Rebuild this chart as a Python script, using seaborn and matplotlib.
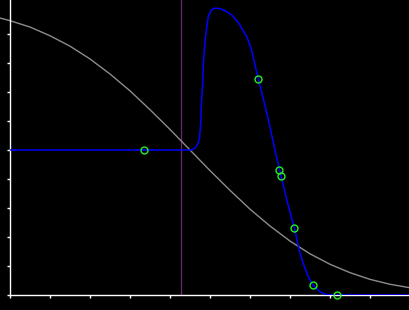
#!/usr/bin/env python

import numpy as np
import pandas as pd
import matplotlib
matplotlib.use("Agg")
import matplotlib.pyplot as plt
import seaborn as sns

# grey curve
grey_x = [-0.25, 0, 0.5, 1, 1.5, 2, 2.5, 3, 3.5, 4, 4.5, 5, 5.5, 6, 6.5,
          7, 7.5, 8, 8.5, 9, 9.5, 10]
grey_y = [9.55, 9.46, 9.24, 8.94, 8.58, 8.14, 7.62, 7.04, 6.39, 5.71, 5.0,
          4.29, 3.61, 2.96, 2.38, 1.86, 1.42, 1.06, 0.77, 0.54, 0.37, 0.25]

# blue curve
blue_x = [0, 4.375, 4.533, 4.625, 4.708, 4.74, 4.768, 4.79, 4.818, 4.83,
          4.858, 4.90, 4.933, 4.958, 5.0, 5.04, 5.10, 5.17, 5.25, 5.33,
          5.43, 5.54, 5.64, 5.75, 5.83, 5.92, 5.98, 6.04, 6.125, 6.21,
          6.42, 6.67, 6.92, 7.11, 7.23, 7.33, 7.45, 7.58, 7.75, 7.875,
          8.0, 10]
blue_y = [5.0, 5.0, 5.0, 5.07, 5.24, 5.45, 5.95, 6.72, 7.30, 7.87,
          8.45, 9.03, 9.37, 9.60, 9.73, 9.83, 9.88, 9.89, 9.87, 9.83,
          9.76, 9.66, 9.51, 9.31, 9.11, 8.91, 8.68, 8.45, 7.93, 7.44,
          6.28, 4.72, 3.28, 2.30, 1.55, 1.09, 0.65, 0.33, 0.11, 0.03,
          0.0, 0.0]

# green sample points
pts_x = [3.35, 6.21, 6.73, 6.78, 7.11, 7.58, 8.18]
pts_y = [5.0, 7.44, 4.30, 4.09, 2.30, 0.33, 0.0]

vline_x = 4.28


def main():
    sns.set_theme(style="ticks", rc={
        "figure.facecolor": "black",
        "axes.facecolor": "black",
        "axes.edgecolor": "white",
        "xtick.color": "white",
        "ytick.color": "white",
        "axes.linewidth": 1.0,
        "xtick.major.size": 2.4,
        "ytick.major.size": 2.4,
        "xtick.major.width": 1.0,
        "ytick.major.width": 1.0,
    })

    fig = plt.figure(figsize=(4.1, 3.1), dpi=100)
    ax = fig.add_axes([10 / 410, 15 / 310, 400 / 410, 295 / 310])

    grey = pd.DataFrame({"x": grey_x, "y": grey_y})
    blue = pd.DataFrame({"x": blue_x, "y": blue_y})
    pts = pd.DataFrame({"x": pts_x, "y": pts_y})

    ax.axvline(vline_x, color="#6a2a6a", lw=0.9, zorder=1)
    sns.lineplot(data=grey, x="x", y="y", ax=ax, color="#8c8c8c", lw=1.0,
                 sort=False, estimator=None, clip_on=False, zorder=2)
    sns.lineplot(data=blue, x="x", y="y", ax=ax, color="#0000ff", lw=1.1,
                 sort=False, estimator=None, zorder=3)
    ax.plot(pts["x"], pts["y"], "o", ms=5, mfc="none", mec="#22ee22",
            mew=1.0, zorder=4, clip_on=False)

    ax.set_xlim(0, 10)
    ax.set_ylim(0, 295 / 29)
    ax.set_xticks(range(0, 11))
    ax.set_yticks(range(0, 10))
    ax.set_xticklabels([])
    ax.set_yticklabels([])
    ax.set_xlabel("")
    ax.set_ylabel("")
    sns.despine(ax=ax)

    fig.savefig("out.png", dpi=100, facecolor="black")


if __name__ == '__main__':
    main()
